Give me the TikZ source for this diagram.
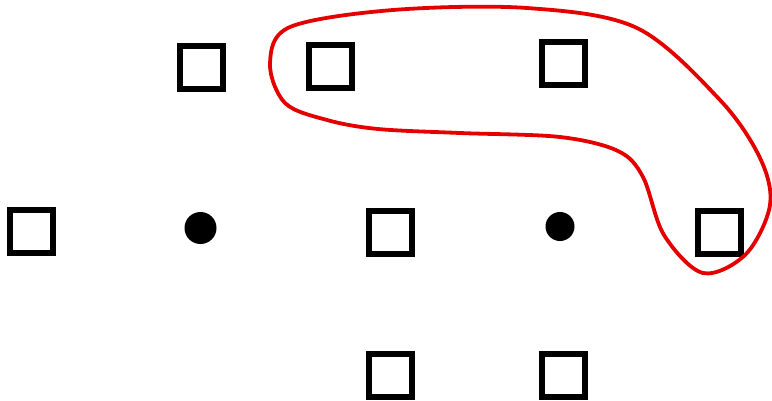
\documentclass[tikz,border=0pt]{standalone}
\begin{document}
\begin{tikzpicture}[x=1pt,y=-1pt,
  sq/.style={draw=black,line width=6pt,fill=white,minimum size=43pt,inner sep=0pt,shape=rectangle},
  dot/.style={circle,fill=black,inner sep=0pt},
  hull/.style={draw=red!90!black,line width=3.8pt}]
\useasboundingbox (0,0) rectangle (772,400);
\node[sq] (s1) at (201.5,67) {};
\node[sq] (s2) at (330,66.5) {};
\node[sq] (s3) at (563,63.5) {};
\node[sq] (s4) at (31,231.5) {};
\node[sq] (s5) at (390,232) {};
\node[sq] (s6) at (719.5,232) {};
\node[sq] (s7) at (390,375) {};
\node[sq] (s8) at (563,375) {};
\node[dot,minimum width=30pt,minimum height=32pt] (d1) at (200.5,228) {};
\node[dot,minimum width=28pt,minimum height=29pt] (d2) at (560,226.5) {};
\draw[hull] plot[smooth cycle,tension=0.55] coordinates {
 (327,120) (378,129) (460,133) (560,137) (618,151) (643,177) (664,235) (703,273)
 (746,254) (770,205) (760,158) (720,100) (637,28) (527,8) (393,10)
 (290,27) (270,63) (285,103)};
\end{tikzpicture}
\end{document}
